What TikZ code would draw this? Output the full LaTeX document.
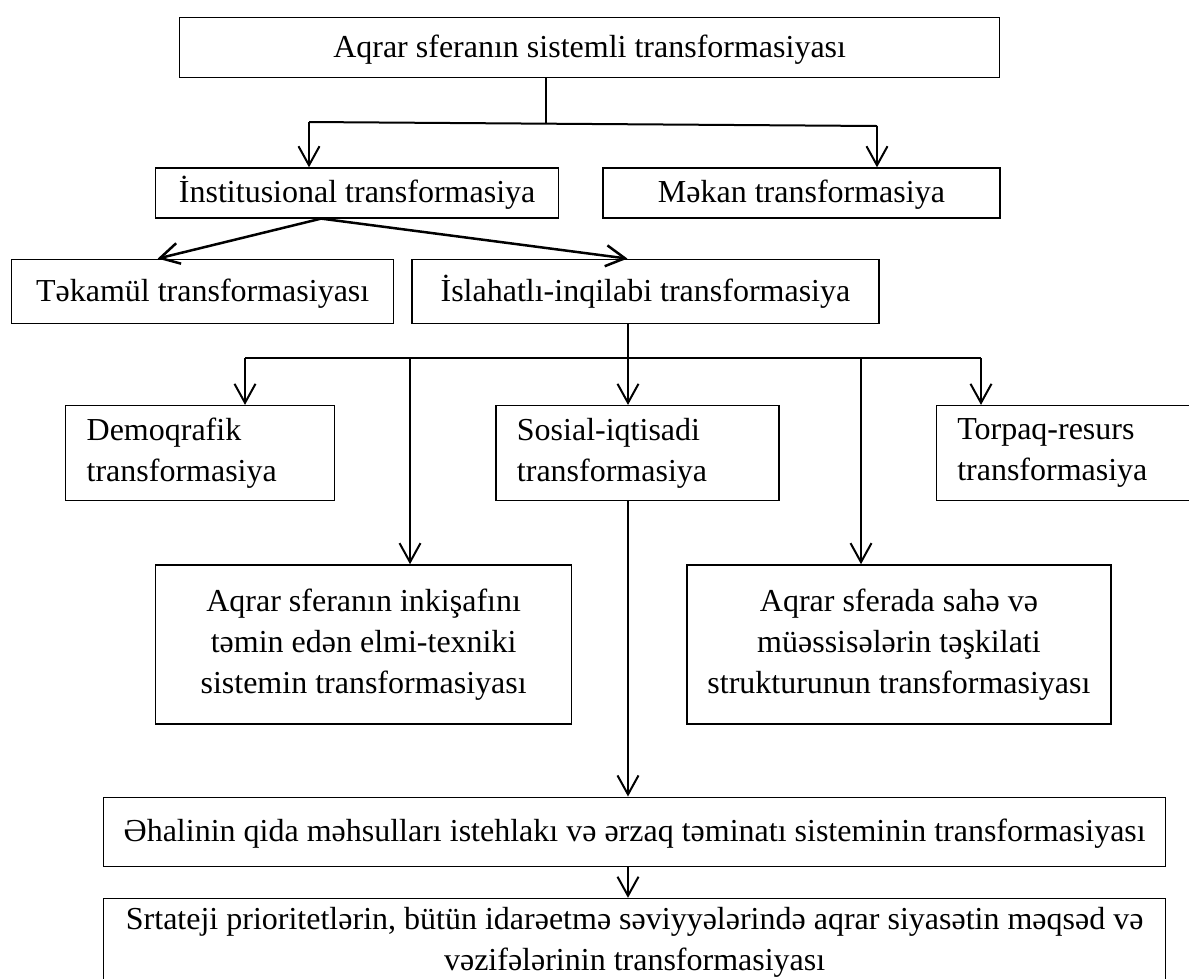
\documentclass[tikz,border=0pt]{standalone}
\usepackage{fontspec}
\setmainfont{Liberation Serif}
\usetikzlibrary{positioning, arrows.meta}
\tikzset{
	box/.style={draw, line width=1.3pt, inner sep=0pt, font=\fontsize{32}{41}\selectfont},
	onel/.style={box, text height=20pt, text depth=0pt},
	twol/.style={box, align=left, inner xsep=21pt, minimum height=95pt},
	threel/.style={box, align=center, minimum height=159pt}
}
\begin{document}
\begin{tikzpicture}[->, >={Straight Barb[length=19pt,width=21pt]}, x=1pt, y=-1pt, line width=2pt]
	 	\useasboundingbox (0,0) rectangle (1189,978);
	 	\node[onel, anchor=north west, minimum width=820pt, minimum height=60pt] (q0) at (179,17) {Aqrar sferanın sistemli transformasiyası};
	 	\node[onel, below right=89pt and -24pt of q0.south west, minimum width=403pt, minimum height=50pt] (q1) {İnstitusional transformasiya};
	 	\node[onel, right=43pt of q1, minimum width=397pt, minimum height=50pt] (q2) {Məkan transformasiya};
	 	\node[onel, below right=40pt and -144pt of q1.south west, minimum width=382pt, minimum height=64pt] (q3) {Təkamül transformasiyası};
	 	\node[onel, right=17pt of q3, minimum width=467pt, minimum height=64pt] (q4) {İslahatlı-inqilabi transformasiya};
	 	\node[twol, below right=81pt and 54pt of q3.south west, text width=227pt] (q5) {Demoqrafik\\transformasiya};
	 	\node[twol, right=160pt of q5, text width=241pt] (q6) {Sosial-iqtisadi\\transformasiya};
	 	\node[twol, right=156pt of q6, text width=228pt] (q7) {Torpaq-resurs\\transformasiya};
	 	\node[threel, below right=63pt and 90pt of q5.south west, minimum width=416pt] (q8) {Aqrar sferanın inkişafını\\təmin edən elmi-texniki\\sistemin transformasiyası};
	 	\node[threel, right=114pt of q8, minimum width=424pt] (q9) {Aqrar sferada sahə və\\müəssisələrin təşkilati\\strukturunun transformasiyası};
	 	\node[onel, below right=72pt and -52pt of q8.south west, minimum width=1062pt, minimum height=69pt] (q10) {Əhalinin qida məhsulları istehlakı və ərzaq təminatı sisteminin transformasiyası};
	 	\node[box, align=center, below=31pt of q10, minimum width=1062pt, minimum height=88pt] (q11) {Srtateji prioritetlərin, bütün idarəetmə səviyyələrində aqrar siyasətin məqsəd və\\vəzifələrinin transformasiyası};
	 	
	 	\coordinate (b0) at (546,124);
	 	\coordinate (b1) at (309,122);
	 	\coordinate (b2) at (877,126);
	 	\coordinate (c0) at (628,358);
	 	\coordinate (c1) at (245,358);
	 	\coordinate (c2) at (981,358);
	 	\coordinate (c3) at (410,358);
	 	\coordinate (c4) at (861,358);
	 	
	 	\draw[-, line width=1.5pt] (b0 |- q0.south) -- (b0);
	 	\draw[-] (b1) -- (b2);
	 	\draw (b1) -- (b1 |- q1.north);
	 	\draw (b2) -- (b2 |- q2.north);
	 	\draw[line width=2.5pt] ([xshift=-36pt]q1.south) -- ([xshift=-45pt]q3.north);
	 	\draw[line width=2.5pt] ([xshift=-36pt]q1.south) -- ([xshift=-18pt]q4.north);
	 	\draw[-] (c0 |- q4.south) -- (c0);
	 	\draw[-] (c1) -- (c2);
	 	\draw (c1) -- (c1 |- q5.north);
	 	\draw (c3) -- (c3 |- q8.north);
	 	\draw (c0) -- (c0 |- q6.north);
	 	\draw (c4) -- (c4 |- q9.north);
	 	\draw (c2) -- (c2 |- q7.north);
	 	\draw (q6.south -| c0) -- (q10.north -| c0);
	 	\draw (q10.south -| c0) -- (q11.north -| c0);
	 \end{tikzpicture}
\end{document}
